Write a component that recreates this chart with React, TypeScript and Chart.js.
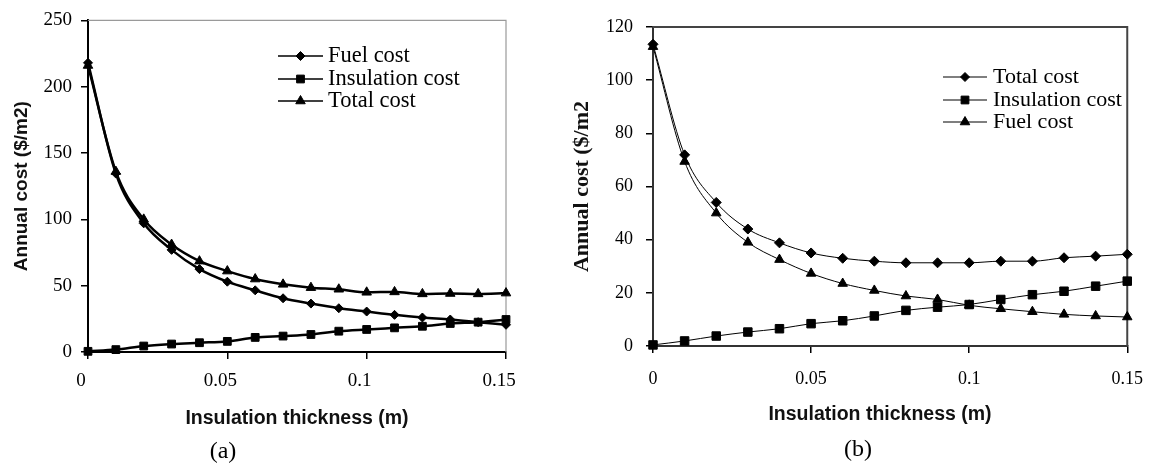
import React, { useEffect, useRef } from 'react';
import { Chart, registerables } from 'chart.js';

Chart.register(...registerables);

// ---------- data ----------
const thickness = [0, 0.01, 0.02, 0.03, 0.04, 0.05, 0.06, 0.07, 0.08, 0.09, 0.1, 0.11, 0.12, 0.13, 0.14, 0.15];

// panel (a)
const fuelCostA = [218, 134.5, 97, 77, 62.5, 53, 46.5, 40.5, 36.5, 33, 30.5, 28, 26, 24.5, 22.5, 20.5];
const insulationCostA = [0.5, 1.8, 4.5, 6, 7, 8, 11, 12, 13.2, 15.7, 17, 18.2, 19.4, 21.5, 22.5, 24.5];
const totalCostA = [216, 136, 100, 81, 68.5, 61, 55, 51, 48.5, 47.3, 45, 45.3, 43.8, 44.1, 43.8, 44.4];

// panel (b)
const totalCostB = [113.5, 71.9, 54, 44, 38.8, 35, 33, 31.9, 31.3, 31.3, 31.3, 31.9, 31.9, 33.2, 33.8, 34.5];
const insulationCostB = [0.4, 1.9, 3.75, 5.25, 6.5, 8.4, 9.5, 11.3, 13.4, 14.6, 15.6, 17.5, 19.3, 20.6, 22.5, 24.4];
const fuelCostB = [112.6, 69.4, 50, 39, 32.5, 27.3, 23.5, 20.9, 18.8, 17.5, 15.3, 14, 12.9, 11.9, 11.3, 10.9];

const xTicks = [0, 0.05, 0.1, 0.15];
const yTicksA = [0, 50, 100, 150, 200, 250];
const yTicksB = [0, 20, 40, 60, 80, 100, 120];

const xTitle = 'Insulation thickness (m)';
const yTitleA = 'Annual cost ($/m2)';
const yTitleB = 'Annual cost ($/m2';
const captionA = '(a)';
const captionB = '(b)';

const labelsA = ['Fuel cost', 'Insulation cost', 'Total cost'];
const labelsB = ['Total cost', 'Insulation cost', 'Fuel cost'];

// ---------- helpers ----------
const SERIF = "'Liberation Serif', 'Times New Roman', serif";
const SANS = "'Liberation Sans', Arial, sans-serif";

function drawMarker(ctx: CanvasRenderingContext2D, style: string, x: number, y: number, r: number) {
  ctx.beginPath();
  if (style === 'rect') {
    const s = Math.SQRT1_2 * r;
    ctx.rect(x - s, y - s, 2 * s, 2 * s);
  } else if (style === 'rectRot') {
    ctx.moveTo(x - r, y);
    ctx.lineTo(x, y - r);
    ctx.lineTo(x + r, y);
    ctx.lineTo(x, y + r);
    ctx.closePath();
  } else {
    let rad = 0;
    const T = (2 * Math.PI) / 3;
    ctx.moveTo(x + Math.sin(rad) * r, y - Math.cos(rad) * r);
    rad += T;
    ctx.lineTo(x + Math.sin(rad) * r, y - Math.cos(rad) * r);
    rad += T;
    ctx.lineTo(x + Math.sin(rad) * r, y - Math.cos(rad) * r);
    ctx.closePath();
  }
  ctx.fillStyle = '#000';
  ctx.fill();
  ctx.lineWidth = 1;
  ctx.strokeStyle = '#000';
  ctx.stroke();
}

function legendPlugin(
  id: string,
  items: { label: string; style: string; r: number }[],
  g: { x1: number; x2: number; textX: number; rows: number[]; lineWidth: number; font: string }
) {
  return {
    id,
    afterDraw(chart: any) {
      const ctx: CanvasRenderingContext2D = chart.ctx;
      ctx.save();
      items.forEach((it, i) => {
        const y = g.rows[i];
        ctx.strokeStyle = '#000';
        ctx.lineWidth = g.lineWidth;
        ctx.beginPath();
        ctx.moveTo(g.x1, y);
        ctx.lineTo(g.x2, y);
        ctx.stroke();
        drawMarker(ctx, it.style, (g.x1 + g.x2) / 2, y, it.r);
        ctx.fillStyle = '#000';
        ctx.font = g.font;
        ctx.textAlign = 'left';
        ctx.textBaseline = 'middle';
        ctx.fillText(it.label, g.textX, y);
      });
      ctx.restore();
    },
  };
}

function framePlugin(color: string, width: number) {
  return {
    id: 'frame',
    beforeDatasetsDraw(chart: any) {
      const { ctx, chartArea: a } = chart;
      ctx.save();
      ctx.strokeStyle = color;
      ctx.lineWidth = width;
      ctx.beginPath();
      ctx.moveTo(a.left, a.top);
      ctx.lineTo(a.right, a.top);
      ctx.lineTo(a.right, a.bottom);
      ctx.stroke();
      ctx.restore();
    },
  };
}

function textPlugin(items: { text: string; x: number; y: number; font: string }[]) {
  return {
    id: 'texts',
    afterDraw(chart: any) {
      const ctx: CanvasRenderingContext2D = chart.ctx;
      ctx.save();
      items.forEach((t) => {
        ctx.font = t.font;
        ctx.fillStyle = '#111';
        ctx.textAlign = 'center';
        ctx.textBaseline = 'middle';
        ctx.fillText(t.text, t.x, t.y);
      });
      ctx.restore();
    },
  };
}

function series(label: string, values: number[], style: string, radius: number, width: number) {
  return {
    label,
    data: thickness.map((x, i) => ({ x, y: values[i] })),
    borderColor: '#000',
    backgroundColor: '#000',
    borderWidth: width,
    pointStyle: style,
    pointRadius: radius,
    pointBorderWidth: 1,
    pointBackgroundColor: '#000',
    pointBorderColor: '#000',
    cubicInterpolationMode: 'monotone',
    clip: false,
  };
}

type PanelOpts = {
  yTicks: number[];
  yTitle: string;
  yTitleFont: any;
  yTitlePad: number;
  yWidth: number;
  xHeight: number;
  padTop: number;
  padRight: number;
  tickFontSize: number;
  yTickPad: number;
  xTickPad: number;
  xLabelOffset: number;
  axisColor: string;
  axisWidth: number;
  xTitleBuiltIn: boolean;
  xTitlePad: number;
};

function buildConfig(datasets: any[], o: PanelOpts, plugins: any[]) {
  return {
    type: 'line',
    data: { datasets },
    plugins,
    options: {
      responsive: false,
      animation: false,
      devicePixelRatio: 1,
      events: [],
      layout: { padding: { left: 0, top: o.padTop, right: o.padRight, bottom: 0 } },
      plugins: { legend: { display: false }, tooltip: { enabled: false } },
      scales: {
        x: {
          type: 'linear',
          min: 0,
          max: 0.15,
          afterBuildTicks: (scale: any) => {
            scale.ticks = xTicks.map((v) => ({ value: v }));
          },
          afterFit: (scale: any) => {
            scale.height = o.xHeight;
          },
          ticks: {
            color: '#000',
            font: { family: SERIF, size: o.tickFontSize },
            padding: o.xTickPad,
            labelOffset: o.xLabelOffset,
            maxRotation: 0,
            autoSkip: false,
            callback: (v: any) => String(v),
          },
          grid: { drawOnChartArea: false, drawTicks: true, tickLength: 7, color: '#000', lineWidth: 1.5 },
          border: { display: true, color: o.axisColor, width: o.axisWidth },
          title: {
            display: o.xTitleBuiltIn,
            text: xTitle,
            color: '#111',
            font: { family: SANS, weight: 'bold', size: 19.5 },
            padding: { top: 0, bottom: o.xTitlePad },
          },
        },
        y: {
          type: 'linear',
          min: o.yTicks[0],
          max: o.yTicks[o.yTicks.length - 1],
          afterBuildTicks: (scale: any) => {
            scale.ticks = o.yTicks.map((v) => ({ value: v }));
          },
          afterFit: (scale: any) => {
            scale.width = o.yWidth;
          },
          ticks: {
            color: '#000',
            font: { family: SERIF, size: o.tickFontSize },
            padding: o.yTickPad,
            callback: (v: any) => String(v),
          },
          grid: { drawOnChartArea: false, drawTicks: true, tickLength: 7, color: '#000', lineWidth: 1.5 },
          border: { display: true, color: o.axisColor, width: o.axisWidth },
          title: {
            display: true,
            text: o.yTitle,
            color: '#111',
            font: o.yTitleFont,
            padding: { top: o.yTitlePad, bottom: 0 },
          },
        },
      },
    },
  };
}

function ChartCanvas({ left, width, make }: { left: number; width: number; make: (c: HTMLCanvasElement) => Chart }) {
  const ref = useRef<HTMLCanvasElement | null>(null);
  useEffect(() => {
    if (!ref.current) return;
    const chart = make(ref.current);
    return () => chart.destroy();
  }, []);
  return (
    <canvas
      ref={ref}
      width={width}
      height={468}
      style={{ position: 'absolute', left, top: 0, width, height: 468 }}
    />
  );
}

const makeA = (canvas: HTMLCanvasElement) => {
  const datasets = [
    series(labelsA[0], fuelCostA, 'rectRot', 4.5, 2.5),
    series(labelsA[1], insulationCostA, 'rect', 5.5, 2.5),
    series(labelsA[2], totalCostA, 'triangle', 5.5, 2.5),
  ];
  const cfg = buildConfig(
    datasets,
    {
      yTicks: yTicksA,
      yTitle: yTitleA,
      yTitleFont: { family: SANS, weight: 'bold', size: 19 },
      yTitlePad: 10.5,
      yWidth: 88,
      xHeight: 116,
      padTop: 17,
      padRight: 54,
      tickFontSize: 19,
      yTickPad: 9,
      xTickPad: 11,
      xLabelOffset: -7,
      axisColor: '#000',
      axisWidth: 2,
      xTitleBuiltIn: true,
      xTitlePad: 38,
    },
    [
      framePlugin('#9a9a9a', 1.2),
      legendPlugin(
        'legendA',
        [
          { label: labelsA[0], style: 'rectRot', r: 4.5 },
          { label: labelsA[1], style: 'rect', r: 5.5 },
          { label: labelsA[2], style: 'triangle', r: 5.5 },
        ],
        { x1: 278, x2: 323, textX: 328, rows: [56, 79, 101], lineWidth: 1.5, font: `22.5px ${SERIF}` }
      ),
    ]
  );
  return new Chart(canvas, cfg as any);
};

const B_LEFT = 566;
const makeB = (canvas: HTMLCanvasElement) => {
  const datasets = [
    series(labelsB[0], totalCostB, 'rectRot', 5, 1),
    series(labelsB[1], insulationCostB, 'rect', 6, 1),
    series(labelsB[2], fuelCostB, 'triangle', 5.5, 1),
  ];
  const cfg = buildConfig(
    datasets,
    {
      yTicks: yTicksB,
      yTitle: yTitleB,
      yTitleFont: { family: SERIF, weight: 'bold', size: 22 },
      yTitlePad: 3,
      yWidth: 87,
      xHeight: 122,
      padTop: 27,
      padRight: 22,
      tickFontSize: 18,
      yTickPad: 13,
      xTickPad: 15,
      xLabelOffset: 0,
      axisColor: '#333',
      axisWidth: 2,
      xTitleBuiltIn: false,
      xTitlePad: 0,
    },
    [
      framePlugin('#444', 2),
      legendPlugin(
        'legendB',
        [
          { label: labelsB[0], style: 'rectRot', r: 4.5 },
          { label: labelsB[1], style: 'rect', r: 5.5 },
          { label: labelsB[2], style: 'triangle', r: 5.5 },
        ],
        { x1: 943 - B_LEFT, x2: 987 - B_LEFT, textX: 993 - B_LEFT, rows: [77, 100, 122], lineWidth: 1.2, font: `22px ${SERIF}` }
      ),
      textPlugin([{ text: xTitle, x: 880 - B_LEFT, y: 415, font: `bold 19.5px ${SANS}` }]),
    ]
  );
  return new Chart(canvas, cfg as any);
};

const captionStyle: React.CSSProperties = {
  position: 'absolute',
  fontFamily: SERIF,
  fontSize: 24,
  lineHeight: '24px',
  color: '#000',
  whiteSpace: 'nowrap',
  transform: 'translateX(-50%)',
};

export default function App() {
  return (
    <div style={{ position: 'absolute', left: 0, top: 0, width: 1158, height: 468, background: '#fff', overflow: 'hidden' }}>
      <ChartCanvas left={0} width={560} make={makeA} />
      <ChartCanvas left={B_LEFT} width={1158 - B_LEFT} make={makeB} />
      <div style={{ ...captionStyle, left: 223, top: 438 }}>{captionA}</div>
      <div style={{ ...captionStyle, left: 858, top: 436 }}>{captionB}</div>
    </div>
  );
}
